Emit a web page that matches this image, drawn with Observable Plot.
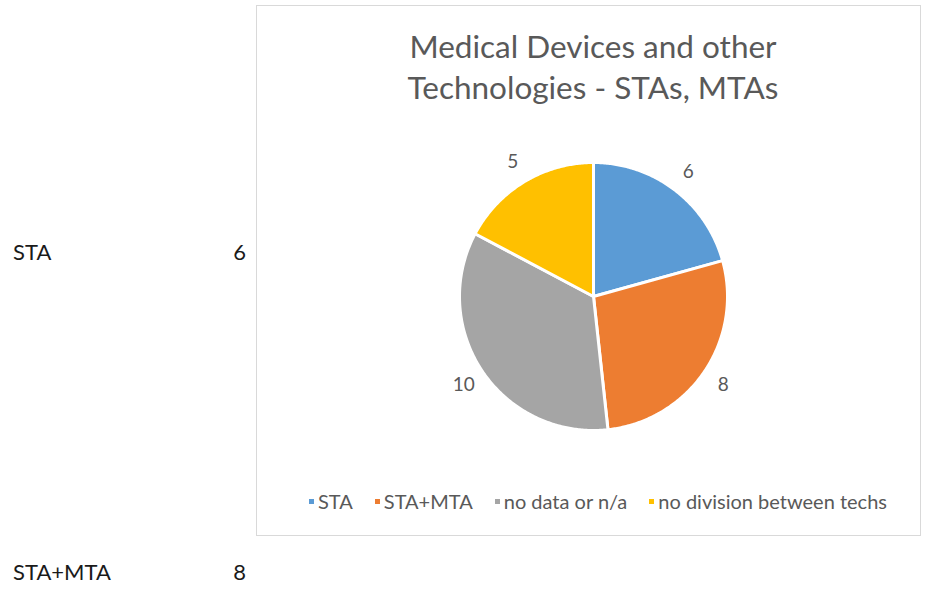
<!DOCTYPE html>
<html>
<head>
<meta charset="utf-8">
<script src="https://cdn.jsdelivr.net/npm/d3@7"></script>
<script src="https://cdn.jsdelivr.net/npm/@observablehq/plot@0.6"></script>
<style>
  html, body { margin: 0; padding: 0; background: #fff; }
  #page { position: relative; width: 929px; height: 589px; overflow: hidden; font-family: Lato, "Open Sans", sans-serif; }
  #frame { position: absolute; left: 256px; top: 5px; width: 665px; height: 531px; border: 1.5px solid #d9d9d9; box-sizing: border-box; }
  #title { position: absolute; left: 256px; width: 674px; top: 26px; text-align: center; color: #595959; font-size: 31.5px; line-height: 41px; }
  #pie { position: absolute; left: 393px; top: 96px; }
  #legend { position: absolute; left: 309px; top: 488px; color: #595959; font-size: 20px; line-height: 26px; white-space: nowrap; display: flex; }
  #legend .item { display: flex; align-items: center; margin-right: 22px; }
  #legend .sw { width: 5px; height: 5px; margin-right: 4px; display: inline-block; }
  .cell { position: absolute; font-size: 22px; line-height: 26px; color: #1a1a1a; }
</style>
</head>
<body>
<div id="page">
  <div id="frame"></div>
  <div id="title">Medical Devices and other<br>Technologies - STAs, MTAs</div>
  <div id="pie"></div>
  <div id="legend"></div>
</div>
<script>
const categories = ["STA", "STA+MTA", "no data or n/a", "no division between techs"];
const values = [6, 8, 10, 5];
const colors = ["#5B9BD5", "#ED7D31", "#A5A5A5", "#FFC000"];
const cellLabels = ["STA", "STA+MTA"];
const cellValues = [6, 8];

const data = categories.map((c, i) => ({category: c, value: values[i]}));
const arcs = d3.pie().sort(null).value(d => d.value)(data);

// polygon points for each slice (unit radius, angle measured clockwise from 12 o'clock)
const slicePts = [];
for (const a of arcs) {
  const n = Math.max(8, Math.ceil((a.endAngle - a.startAngle) / 0.01));
  slicePts.push({category: a.data.category, x: 0, y: 0});
  for (let k = 0; k <= n; k++) {
    const t = a.startAngle + (a.endAngle - a.startAngle) * k / n;
    slicePts.push({category: a.data.category, x: Math.sin(t), y: Math.cos(t)});
  }
  slicePts.push({category: a.data.category, x: 0, y: 0});
}
const labelR = 1.17;
const labels = arcs.map(a => {
  const m = (a.startAngle + a.endAngle) / 2;
  return {category: a.data.category, value: a.data.value, x: labelR * Math.sin(m), y: labelR * Math.cos(m)};
});

const size = 400, R = 134, ext = size / 2 / R;
const chart = Plot.plot({
  width: size, height: size,
  margin: 0,
  x: {domain: [-ext, ext], axis: null},
  y: {domain: [-ext, ext], axis: null},
  color: {domain: categories, range: colors},
  marks: [
    Plot.line(slicePts, {x: "x", y: "y", z: "category", fill: "category", stroke: "white", strokeWidth: 3, strokeLinejoin: "round"}),
    Plot.text(labels, {x: "x", y: "y", text: d => String(d.value), fill: "#595959", fontSize: 19, fontFamily: "Lato, 'Open Sans', sans-serif"})
  ],
  style: {background: "transparent", overflow: "visible"}
});
document.getElementById("pie").appendChild(chart);

const legend = document.getElementById("legend");
categories.forEach((c, i) => {
  const it = document.createElement("span");
  it.className = "item";
  const sw = document.createElement("span");
  sw.className = "sw";
  sw.style.background = colors[i];
  it.appendChild(sw);
  it.appendChild(document.createTextNode(c));
  legend.appendChild(it);
});

const page = document.getElementById("page");
const cellTops = [239, 559];
cellLabels.forEach((l, i) => {
  const a = document.createElement("div");
  a.className = "cell"; a.textContent = l;
  a.style.left = "13px"; a.style.top = cellTops[i] + "px";
  page.appendChild(a);
  const b = document.createElement("div");
  b.className = "cell"; b.textContent = String(cellValues[i]);
  b.style.left = "200px"; b.style.width = "46px"; b.style.textAlign = "right"; b.style.top = cellTops[i] + "px";
  page.appendChild(b);
});
</script>
</body>
</html>
